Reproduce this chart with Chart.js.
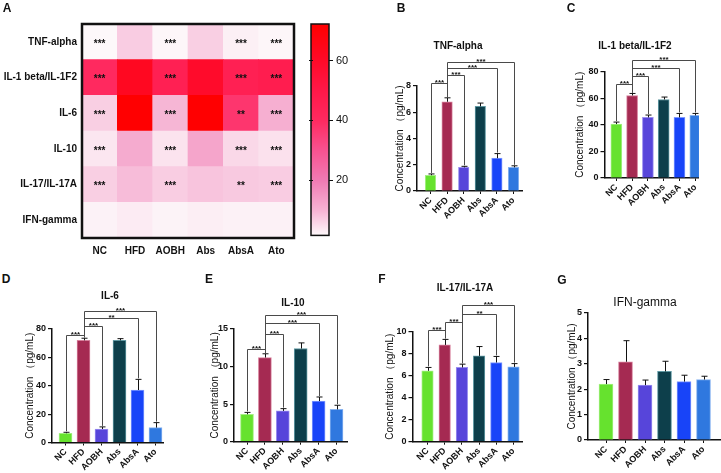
<!DOCTYPE html>
<html>
<head>
<meta charset="utf-8">
<script src="https://cdn.jsdelivr.net/npm/chart.js@4.4.1/dist/chart.umd.min.js"></script>
<style>
  html, body { margin: 0; padding: 0; background: #fff; }
  #stage { position: relative; width: 721px; height: 473px; overflow: hidden; font-family: "Liberation Sans", Arial, sans-serif; color: #111; }
  #stage canvas { position: absolute; }
  .lbl { position: absolute; transform: translate(-50%, -50%); white-space: nowrap; z-index: 5; }
  .letter { font-weight: bold; font-size: 12px; }
  .ttl { font-weight: bold; font-size: 10px; }
  .ttl.plain { font-weight: normal; font-size: 12px; }
</style>
</head>
<body>
<div id="stage">
  <canvas id="heat" width="300" height="262" style="left:0;top:0"></canvas>
  <canvas id="scale" width="60" height="245" style="left:303px;top:0"></canvas>

  <div class="lbl letter" style="left:7px;top:8px">A</div>
  <div class="lbl letter" style="left:401px;top:8px">B</div>
  <div class="lbl letter" style="left:571px;top:8px">C</div>
  <div class="lbl letter" style="left:6px;top:279px">D</div>
  <div class="lbl letter" style="left:209px;top:279px">E</div>
  <div class="lbl letter" style="left:382px;top:279px">F</div>
  <div class="lbl letter" style="left:562px;top:280px">G</div>

  <div class="lbl ttl" style="left:458px;top:45px">TNF-alpha</div>
  <div class="lbl ttl" style="left:635px;top:45px">IL-1 beta/IL-1F2</div>
  <div class="lbl ttl" style="left:110px;top:295px">IL-6</div>
  <div class="lbl ttl" style="left:293px;top:302px">IL-10</div>
  <div class="lbl ttl" style="left:465px;top:287px">IL-17/IL-17A</div>
  <div class="lbl ttl plain" style="left:645px;top:302px">IFN-gamma</div>
</div>
<script>
'use strict';

// ---------------------------------------------------------------------------
// Data
// ---------------------------------------------------------------------------

const groups = ['NC', 'HFD', 'AOBH', 'Abs', 'AbsA', 'Ato'];
const cytokines = ['TNF-alpha', 'IL-1 beta/IL-1F2', 'IL-6', 'IL-10', 'IL-17/IL-17A', 'IFN-gamma'];

const tnfMean = [1.2, 6.8, 1.8, 6.45, 2.5, 1.8];
const tnfErr = [0.1, 0.3, 0.08, 0.25, 0.35, 0.12];
const tnfBrackets = [[0, 1, 8.2, '***'], [1, 2, 8.8, '***'], [1, 4, 9.35, '***'], [1, 5, 9.85, '***']];

const il1Mean = [40.5, 62, 45.5, 59, 45.5, 47];
const il1Err = [1.5, 1.5, 1.8, 1.8, 3, 1.5];
const il1Brackets = [[0, 1, 70.8, '***'], [1, 2, 76.5, '***'], [1, 4, 82.5, '***'], [1, 5, 88.3, '***']];

const il6Mean = [6.5, 72, 9.5, 72, 37, 10.5];
const il6Err = [0.7, 1.5, 1.5, 1.2, 7.5, 3.5];
const il6Brackets = [[0, 1, 76, '***'], [1, 2, 82, '***'], [1, 4, 87.5, '**'], [1, 5, 93, '***']];

const il10Mean = [3.65, 11.2, 4.1, 12.4, 5.4, 4.3];
const il10Err = [0.25, 0.5, 0.3, 0.75, 0.55, 0.55];
const il10Brackets = [[0, 1, 12.3, '***'], [1, 2, 14.3, '***'], [1, 4, 15.85, '***'], [1, 5, 16.9, '***']];

const il17Mean = [6.45, 8.8, 6.75, 7.8, 7.2, 6.8];
const il17Err = [0.3, 0.5, 0.3, 0.85, 0.55, 0.3];
const il17Brackets = [[0, 1, 10.15, '***'], [1, 2, 10.85, '***'], [2, 4, 11.6, '**'], [2, 5, 12.4, '***']];

const ifnMean = [2.2, 3.08, 2.16, 2.7, 2.3, 2.38];
const ifnErr = [0.18, 0.83, 0.2, 0.4, 0.25, 0.13];
const ifnBrackets = [];

// heatmap: one row per cytokine, read from the group means
const heatValues = [tnfMean, il1Mean, il6Mean, il10Mean, il17Mean, ifnMean];
const heatStars = [
    ['***', '', '***', '', '***', '***'],
    ['***', '', '***', '', '***', '***'],
    ['***', '', '***', '', '**', '***'],
    ['***', '', '***', '', '***', '***'],
    ['***', '', '***', '', '**', '***'],
    ['', '', '', '', '', '']
];
const colorMin = 1.5;
const colorMax = 72.2;
const colorTicks = [20, 40, 60];

// ---------------------------------------------------------------------------
// Style
// ---------------------------------------------------------------------------

const FONT = '"Liberation Sans", Arial, sans-serif';
const INK = '#111';
const groupColors = ['#66e22e', '#a52a52', '#5745da', '#0d3f4b', '#1844f8', '#2f78df'];
const groupEdges = ['#a4f083', '#d7809c', '#9a8ef0', '#5f98a2', '#7e98ff', '#86b2f0'];
const HEAT_STOPS = [
    [1.5, '#fdf8fa'], [10, '#f6b2d3'], [20, '#f07ab3'], [30, '#f75290'],
    [40, '#ff2a60'], [50, '#ff1848'], [60, '#ff0a28'], [72.2, '#ff0000']
];

Chart.defaults.font.family = FONT;
Chart.defaults.color = INK;
Chart.defaults.animation = false;
Chart.defaults.events = [];
Chart.defaults.plugins.legend.display = false;
Chart.defaults.plugins.tooltip.enabled = false;

function hexToRgb(h) {
    return [1, 3, 5].map(i => parseInt(h.slice(i, i + 2), 16));
}

function heatColor(v) {
    const s = HEAT_STOPS;
    if (v <= s[0][0]) return s[0][1];
    for (let i = 1; i < s.length; i++) {
        if (v <= s[i][0]) {
            const t = (v - s[i - 1][0]) / (s[i][0] - s[i - 1][0]);
            const a = hexToRgb(s[i - 1][1]);
            const b = hexToRgb(s[i][1]);
            const c = a.map((x, k) => Math.round(x + (b[k] - x) * t));
            return `rgb(${c[0]},${c[1]},${c[2]})`;
        }
    }
    return s[s.length - 1][1];
}

// ---------------------------------------------------------------------------
// Heatmap (panel A)
// ---------------------------------------------------------------------------

const heatPlugin = {
    id: 'heatStars',
    afterDatasetsDraw(chart) {
        const { ctx, chartArea: a } = chart;
        ctx.save();
        ctx.font = `bold 10px ${FONT}`;
        ctx.textAlign = 'center';
        ctx.textBaseline = 'middle';
        ctx.fillStyle = INK;
        chart.data.datasets.forEach((ds, di) => {
            chart.getDatasetMeta(di).data.forEach((el, i) => {
                const s = ds.stars[i];
                if (s) ctx.fillText(s, el.x, (el.y + el.base) / 2 + 2);
            });
        });
        ctx.lineWidth = 2.5;
        ctx.strokeStyle = INK;
        ctx.strokeRect(a.left, a.top, a.right - a.left, a.bottom - a.top);
        ctx.restore();
    }
};

new Chart(document.getElementById('heat'), {
    type: 'bar',
    data: {
        labels: groups,
        datasets: cytokines.map((name, r) => ({
            label: name,
            data: groups.map(() => 1),
            stars: heatStars[r],
            backgroundColor: heatValues[r].map(heatColor),
            borderWidth: 0,
            categoryPercentage: 1,
            barPercentage: 1
        })).reverse()
    },
    options: {
        responsive: false,
        layout: { padding: { top: 24, right: 6, left: 0, bottom: 0 } },
        scales: {
            x: {
                stacked: true,
                grid: { display: false, drawTicks: false },
                border: { display: false },
                ticks: { padding: 7, minRotation: 0, maxRotation: 0, autoSkip: false, font: { size: 10, weight: 'bold' } },
                afterFit: s => { s.height = 24; }
            },
            y: {
                stacked: true,
                min: 0,
                max: 6,
                grid: { display: false, drawTicks: false },
                border: { display: false },
                afterBuildTicks: s => { s.ticks = cytokines.map((_, i) => ({ value: 5.5 - i })); },
                ticks: {
                    padding: 5,
                    font: { size: 10, weight: 'bold' },
                    callback: v => cytokines[Math.round(5.5 - v)]
                },
                afterFit: s => { s.width = 82; }
            }
        }
    },
    plugins: [heatPlugin]
});

// colour scale bar
const scalePlugin = {
    id: 'scaleFrame',
    afterDatasetsDraw(chart) {
        const { ctx, chartArea: a } = chart;
        const ys = chart.scales.y;
        ctx.save();
        ctx.strokeStyle = INK;
        ctx.lineWidth = 1.5;
        ctx.strokeRect(a.left, a.top, a.right - a.left, a.bottom - a.top);
        ctx.lineWidth = 1;
        colorTicks.forEach(v => {
            const y = Math.round(ys.getPixelForValue(v)) + 0.5;
            ctx.beginPath();
            ctx.moveTo(a.left - 2, y);
            ctx.lineTo(a.left + 2, y);
            ctx.stroke();
        });
        ctx.restore();
    }
};

new Chart(document.getElementById('scale'), {
    type: 'bar',
    data: {
        labels: [''],
        datasets: [{
            data: [[colorMin, colorMax]],
            categoryPercentage: 1,
            barPercentage: 1,
            borderWidth: 0,
            backgroundColor: (c) => {
                const chart = c.chart;
                if (!chart.chartArea) return '#fff';
                const ys = chart.scales.y;
                const g = chart.ctx.createLinearGradient(0, ys.getPixelForValue(colorMin), 0, ys.getPixelForValue(colorMax));
                HEAT_STOPS.forEach(([v, col]) => {
                    g.addColorStop(Math.min(1, Math.max(0, (v - colorMin) / (colorMax - colorMin))), col);
                });
                return g;
            }
        }]
    },
    options: {
        responsive: false,
        layout: { padding: { top: 24, left: 8, bottom: 7, right: 0 } },
        scales: {
            x: { display: false },
            y: {
                position: 'right',
                min: colorMin,
                max: colorMax,
                afterBuildTicks: s => { s.ticks = colorTicks.map(v => ({ value: v })); },
                grid: { drawOnChartArea: false, tickLength: 4, color: INK, lineWidth: 1 },
                border: { display: false },
                ticks: { padding: 3, font: { size: 11 } },
                afterFit: s => { s.width = 34; }
            }
        }
    },
    plugins: [scalePlugin]
});

// ---------------------------------------------------------------------------
// Bar panels (B - G)
// ---------------------------------------------------------------------------

const annotPlugin = {
    id: 'annot',
    afterDatasetsDraw(chart, args, opts) {
        const { ctx } = chart;
        const xs = chart.scales.x;
        const ys = chart.scales.y;
        const tops = opts.mean.map((m, i) => ys.getPixelForValue(m + opts.err[i]));
        ctx.save();
        // error bars (upper only)
        ctx.strokeStyle = INK;
        ctx.lineWidth = 1;
        opts.mean.forEach((m, i) => {
            const x = Math.round(xs.getPixelForValue(i)) + 0.5;
            ctx.beginPath();
            ctx.moveTo(x, ys.getPixelForValue(m));
            ctx.lineTo(x, tops[i]);
            ctx.moveTo(x - 3, tops[i]);
            ctx.lineTo(x + 3, tops[i]);
            ctx.stroke();
        });
        // significance brackets
        ctx.strokeStyle = '#4a4a4a';
        ctx.fillStyle = INK;
        ctx.font = `bold 8px ${FONT}`;
        ctx.textAlign = 'center';
        ctx.textBaseline = 'alphabetic';
        opts.brackets.forEach(([a, b, v, label]) => {
            const xa = Math.round(xs.getPixelForValue(a)) + 0.5;
            const xb = Math.round(xs.getPixelForValue(b)) + 0.5;
            const y = Math.round(ys.getPixelForValue(v)) + 0.5;
            ctx.beginPath();
            ctx.moveTo(xa, tops[a] - 1);
            ctx.lineTo(xa, y);
            ctx.lineTo(xb, y);
            ctx.lineTo(xb, tops[b] - 1);
            ctx.stroke();
            ctx.fillText(label, (xa + xb) / 2, y + 1);
        });
        ctx.restore();
    }
};

const WY = 40;

function makePanel(p) {
    const left = Math.floor(p.x0) - WY;
    const padLeft = p.x0 - Math.floor(p.x0);
    const top = Math.floor(p.yTopPx - 45);
    const bottom = Math.ceil(p.y0Px + 35);
    const width = Math.ceil(p.x1 + 2) - left;
    const height = bottom - top;

    const cv = document.createElement('canvas');
    cv.width = width;
    cv.height = height;
    cv.style.left = left + 'px';
    cv.style.top = top + 'px';
    document.getElementById('stage').appendChild(cv);

    const xMin = -(p.c0 - p.x0) / p.step;
    const xMax = 5 + (p.x1 - (p.c0 + 5 * p.step)) / p.step;
    const titlePad = (p.titleX - left) - padLeft - 6;

    return new Chart(cv, {
        type: 'bar',
        data: {
            datasets: [{
                data: p.mean.map((v, i) => ({ x: i, y: v })),
                backgroundColor: groupColors,
                borderColor: groupEdges,
                borderWidth: 1,
                barThickness: p.barW
            }]
        },
        options: {
            responsive: false,
            layout: { padding: { top: p.yTopPx - top, right: width - (p.x1 - left), left: padLeft, bottom: 0 } },
            scales: {
                x: {
                    type: 'linear',
                    min: xMin,
                    max: xMax,
                    offset: false,
                    afterBuildTicks: s => { s.ticks = groups.map((_, i) => ({ value: i })); },
                    afterFit: s => { s.height = bottom - p.y0Px; },
                    grid: { offset: false, drawOnChartArea: false, tickLength: 3, color: INK, lineWidth: 1 },
                    border: { color: INK, width: 1.5 },
                    ticks: {
                        autoSkip: false,
                        minRotation: 45,
                        maxRotation: 45,
                        padding: 1,
                        font: { size: 9, weight: 'bold' },
                        callback: v => groups[v]
                    }
                },
                y: {
                    min: 0,
                    max: p.yMax,
                    afterFit: s => { s.width = WY; },
                    grid: { drawOnChartArea: false, tickLength: 4, color: INK, lineWidth: 1.2 },
                    border: { color: INK, width: 1.5 },
                    ticks: { stepSize: p.yStep, padding: 2, font: { size: 9, weight: 'bold' } },
                    title: {
                        display: true,
                        text: 'Concentration （pg/mL)',
                        font: { size: 10 },
                        color: INK,
                        padding: { top: titlePad, bottom: 0 }
                    }
                }
            },
            plugins: {
                annot: { mean: p.mean, err: p.err, brackets: p.brackets }
            }
        },
        plugins: [annotPlugin]
    });
}

makePanel({ mean: tnfMean, err: tnfErr, brackets: tnfBrackets, yMax: 8, yStep: 2,
    x0: 417, x1: 522, yTopPx: 86, y0Px: 191, c0: 430.5, step: 16.6, barW: 10.5, titleX: 400 });
makePanel({ mean: il1Mean, err: il1Err, brackets: il1Brackets, yMax: 80, yStep: 20,
    x0: 604.5, x1: 702, yTopPx: 71.5, y0Px: 178, c0: 616.7, step: 16.3, barW: 11, titleX: 580 });
makePanel({ mean: il6Mean, err: il6Err, brackets: il6Brackets, yMax: 80, yStep: 20,
    x0: 52, x1: 163, yTopPx: 329, y0Px: 442.5, c0: 65.5, step: 18, barW: 13, titleX: 30 });
makePanel({ mean: il10Mean, err: il10Err, brackets: il10Brackets, yMax: 15, yStep: 5,
    x0: 234, x1: 347, yTopPx: 329, y0Px: 441.7, c0: 247, step: 17.9, barW: 13, titleX: 215 });
makePanel({ mean: il17Mean, err: il17Err, brackets: il17Brackets, yMax: 10, yStep: 2,
    x0: 412.5, x1: 522, yTopPx: 331.7, y0Px: 441.7, c0: 427.5, step: 17.2, barW: 11.5, titleX: 390 });
makePanel({ mean: ifnMean, err: ifnErr, brackets: ifnBrackets, yMax: 5, yStep: 1,
    x0: 588, x1: 720, yTopPx: 313, y0Px: 440, c0: 606, step: 19.5, barW: 14, titleX: 572 });
</script>
</body>
</html>
